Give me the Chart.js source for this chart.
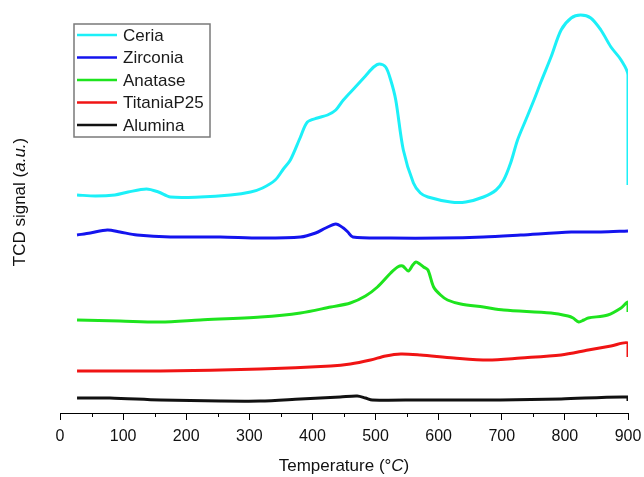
<!DOCTYPE html>
<html lang="en">
<head>
    <meta charset="UTF-8">
    <title>TPR profiles</title>
    <script src="https://cdn.jsdelivr.net/npm/chart.js"></script>
    <style>
        html, body { margin: 0; padding: 0; background: #fff; }
        #wrap { width: 644px; height: 477px; }
    </style>
</head>
<body>
    <div id="wrap"><canvas id="tprChart" width="644" height="477"></canvas></div>

    <script>
        // temperatures (°C) and TCD signal (a.u.)
        const ceriaT = [27, 56, 87, 108, 137, 156, 175, 222, 270, 302, 321, 341, 354, 365, 381, 392, 408, 424, 437, 449, 468, 484, 497, 506, 516, 524, 532, 544, 560, 571, 583, 619, 643, 671, 691, 703, 714, 725, 738, 751, 762, 778, 794, 810, 825, 841, 857, 873, 889, 900, 900];
        const ceriaY = [21.8, 21.7, 21.8, 22.1, 22.4, 22.1, 21.6, 21.6, 21.8, 22.1, 22.5, 23.3, 24.4, 25.3, 27.6, 29.1, 29.5, 29.8, 30.3, 31.3, 32.6, 33.7, 34.6, 34.9, 34.6, 33.3, 31.3, 26.3, 23.0, 22.0, 21.6, 21.1, 21.1, 21.6, 22.3, 23.3, 25.0, 27.3, 29.3, 31.3, 33.1, 35.6, 38.3, 39.5, 39.8, 39.5, 38.3, 36.6, 35.3, 33.8, 22.8];

        const zirconiaT = [27, 48, 75, 95, 122, 175, 254, 318, 381, 405, 421, 437, 449, 456, 464, 524, 603, 671, 730, 810, 857, 900];
        const zirconiaY = [17.8, 18.0, 18.3, 18.1, 17.8, 17.6, 17.6, 17.5, 17.6, 18.0, 18.5, 18.9, 18.5, 18.1, 17.6, 17.5, 17.5, 17.6, 17.8, 18.1, 18.1, 18.2];

        const anataseT = [27, 95, 159, 222, 318, 381, 429, 460, 484, 503, 524, 535, 543, 552, 559, 564, 570, 576, 583, 592, 603, 614, 635, 671, 703, 778, 805, 813, 822, 830, 837, 868, 889, 900, 900];
        const anataseY = [9.3, 9.2, 9.1, 9.3, 9.6, 10.0, 10.6, 11.0, 11.7, 12.6, 14.0, 14.6, 14.7, 14.2, 14.8, 15.1, 14.9, 14.6, 14.3, 12.6, 11.8, 11.3, 10.9, 10.6, 10.3, 10.0, 9.7, 9.5, 9.1, 9.3, 9.5, 9.8, 10.5, 11.1, 10.1];

        const titaniaT = [27, 159, 318, 429, 460, 492, 516, 540, 571, 624, 678, 730, 794, 837, 873, 900, 900];
        const titaniaY = [4.2, 4.2, 4.4, 4.7, 4.9, 5.3, 5.7, 5.9, 5.8, 5.5, 5.3, 5.5, 5.8, 6.3, 6.7, 7.0, 5.6];

        const aluminaT = [27, 79, 159, 254, 317, 381, 444, 471, 484, 495, 571, 698, 794, 900, 900];
        const aluminaY = [1.5, 1.5, 1.3, 1.2, 1.2, 1.4, 1.6, 1.7, 1.5, 1.3, 1.3, 1.3, 1.4, 1.6, 1.2];

        const seriesNames = ['Ceria', 'Zirconia', 'Anatase', 'TitaniaP25', 'Alumina'];
        const seriesColors = ['#1cf0f8', '#1414ee', '#1ee41e', '#f01414', '#111111'];
        const xTicks = [0, 100, 200, 300, 400, 500, 600, 700, 800, 900];

        const FONT = 'Liberation Sans, Arial, sans-serif';

        function toPoints(ts, ys) {
            return ts.map((t, i) => ({ x: t, y: ys[i] }));
        }

        const allSeries = [
            toPoints(ceriaT, ceriaY),
            toPoints(zirconiaT, zirconiaY),
            toPoints(anataseT, anataseY),
            toPoints(titaniaT, titaniaY),
            toPoints(aluminaT, aluminaY)
        ];

        // minor ticks, axis titles with italic parts, boxed legend
        const extras = {
            id: 'extras',
            afterDraw(chart) {
                const ctx = chart.ctx;
                const xs = chart.scales.x;
                const area = chart.chartArea;
                ctx.save();

                // minor ticks at the 50s
                ctx.strokeStyle = '#000';
                ctx.lineWidth = 1;
                for (let t = 50; t < 900; t += 100) {
                    const px = Math.round(xs.getPixelForValue(t)) + 0.5;
                    ctx.beginPath();
                    ctx.moveTo(px, area.bottom);
                    ctx.lineTo(px, area.bottom + 4);
                    ctx.stroke();
                }

                // x title
                ctx.fillStyle = '#111';
                ctx.textBaseline = 'middle';
                const xParts = [['Temperature (°', false], ['C', true], [')', false]];
                drawParts(ctx, xParts, (area.left + area.right) / 2, 466, 17);

                // y title
                ctx.save();
                ctx.translate(20, 202);
                ctx.rotate(-Math.PI / 2);
                const yParts = [['TCD signal (', false], ['a.u.', true], [')', false]];
                drawParts(ctx, yParts, 0, 0, 17);
                ctx.restore();

                // legend
                const bx = 74, by = 24, bw = 136, bh = 113;
                ctx.strokeStyle = '#7a7a7a';
                ctx.lineWidth = 1.5;
                ctx.strokeRect(bx, by, bw, bh);
                ctx.font = '17px ' + FONT;
                ctx.textAlign = 'left';
                chart.data.datasets.forEach((ds, i) => {
                    const cy = 35 + i * 22.5;
                    ctx.strokeStyle = ds.borderColor;
                    ctx.lineWidth = 2.5;
                    ctx.beginPath();
                    ctx.moveTo(77, cy);
                    ctx.lineTo(117, cy);
                    ctx.stroke();
                    ctx.fillStyle = '#1a1a1a';
                    ctx.fillText(ds.label, 123, cy + 1);
                });

                ctx.restore();
            }
        };

        function drawParts(ctx, parts, cx, cy, size) {
            let total = 0;
            parts.forEach(([txt, it]) => {
                ctx.font = (it ? 'italic ' : '') + size + 'px ' + FONT;
                total += ctx.measureText(txt).width;
            });
            let x = cx - total / 2;
            ctx.textAlign = 'left';
            parts.forEach(([txt, it]) => {
                ctx.font = (it ? 'italic ' : '') + size + 'px ' + FONT;
                ctx.fillText(txt, x, cy);
                x += ctx.measureText(txt).width;
            });
        }

        new Chart(document.getElementById('tprChart').getContext('2d'), {
            type: 'line',
            data: {
                datasets: seriesNames.map((name, i) => ({
                    label: name,
                    data: allSeries[i],
                    borderColor: seriesColors[i],
                    backgroundColor: seriesColors[i],
                    borderWidth: 3,
                    pointRadius: 0,
                    tension: 0.3,
                    fill: false
                }))
            },
            options: {
                responsive: false,
                animation: false,
                layout: { padding: { left: 7, right: 16, top: 10, bottom: 0 } },
                plugins: {
                    legend: { display: false },
                    tooltip: { enabled: false }
                },
                scales: {
                    x: {
                        type: 'linear',
                        min: 0,
                        max: 900,
                        afterBuildTicks: s => { s.ticks = xTicks.map(v => ({ value: v })); },
                        afterFit: s => {
                            s.height = 64;
                            s.paddingLeft = 0;
                            s.paddingRight = 0;
                        },
                        ticks: {
                            font: { family: FONT, size: 16 },
                            color: '#111',
                            padding: 7,
                            maxRotation: 0
                        },
                        grid: {
                            drawOnChartArea: false,
                            drawTicks: true,
                            tickLength: 7,
                            color: '#000'
                        },
                        border: { display: true, color: '#000', width: 1 }
                    },
                    y: {
                        min: 0,
                        max: 40.3,
                        afterFit: s => { s.width = 53; },
                        ticks: { display: false },
                        grid: { display: false },
                        border: { display: false }
                    }
                }
            },
            plugins: [extras]
        });
    </script>
</body>
</html>
